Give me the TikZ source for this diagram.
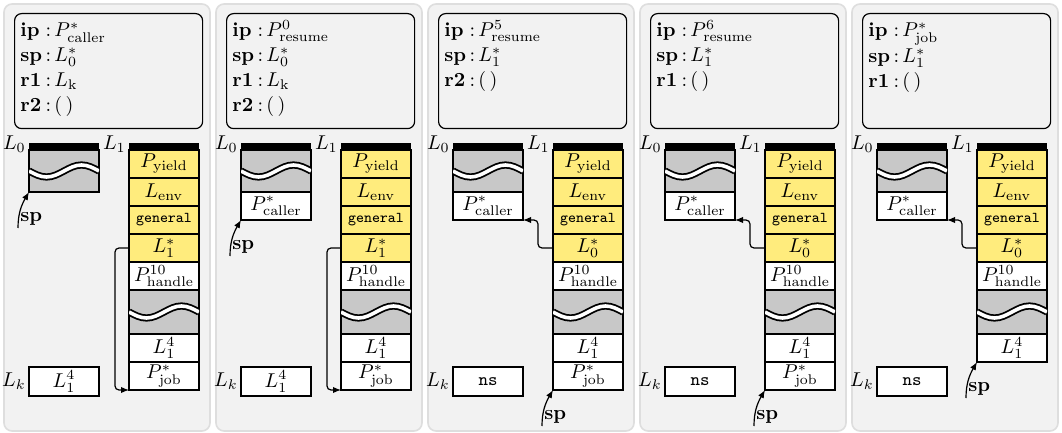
\documentclass[tikz,border=0pt]{standalone}
\usetikzlibrary{positioning, arrows.meta}

\definecolor{panelbg}{RGB}{242,242,242}
\definecolor{panelline}{RGB}{222,222,222}
\definecolor{frameyellow}{RGB}{255,236,125}
\definecolor{gapgray}{RGB}{200,200,200}

% torn part of a stack
\newcommand{\tear}[1]{%
  \begin{scope}
    \clip (#1.south west) rectangle (#1.north east);
    \draw[line width=3.6pt] (#1.west) sin ++(17.5,-6) cos ++(17.5,6) sin ++(17.5,6) cos ++(17.5,-6);
    \draw[white, line width=1.8pt] (#1.west) sin ++(17.5,-6) cos ++(17.5,6) sin ++(17.5,6) cos ++(17.5,-6);
  \end{scope}}
\newcommand{\nsval}{{\fontsize{9}{10}\selectfont\texttt{ns}}}

\begin{document}
\begin{tikzpicture}[
  x=0.5pt, y=0.5pt,
  panel/.style = {rectangle, draw=panelline, fill=panelbg, line width=0.8pt, rounded corners=4pt, minimum width=103pt, minimum height=213.5pt, inner sep=0pt},
  ctx/.style   = {rectangle, draw, line width=0.6pt, rounded corners=3.5pt, minimum width=94pt, minimum height=57.5pt, anchor=north west, inner sep=0pt},
  regs/.style  = {anchor=north west, inner sep=0pt, font={\def\arraystretch{1.04}}},
  bar/.style   = {rectangle, fill=black, minimum width=35pt, minimum height=3.5pt, inner sep=0pt, outer sep=0pt, anchor=north west},
  cell/.style  = {rectangle, draw, fill=white, line width=0.6pt, minimum width=35pt, minimum height=14pt, inner sep=0pt, outer sep=0pt},
  hot/.style   = {cell, fill=frameyellow},
  gap/.style   = {cell, fill=gapgray, minimum height=22pt},
  lkbox/.style = {cell, minimum height=14.5pt, anchor=north west},
  lab/.style   = {anchor=base east, inner sep=1.5pt},
  splab/.style = {anchor=south west, inner sep=1pt},
  ptr/.style   = {-{Latex[length=4pt, width=3.2pt]}, line width=0.6pt, rounded corners=2pt},
  bottomline/.style = {line width=1.3pt},
  tt/.style    = {font=\fontsize{7.5}{9}\selectfont\ttfamily},
  ]
  \useasboundingbox (0,0) rectangle (1062,-433);

  % what every panel has
  \foreach \i/\s/\k in {1/1/{$L_1^4$}, 2/1/{$L_1^4$}, 3/0/\nsval, 4/0/\nsval, 5/0/\nsval} {
    \begin{scope}[shift={(212*\i-212,0)}]
      \node[panel] (pan\i) at (107,-217.5) {};
      \node[ctx]   (ctx\i) at (14,-13) {};
      % stack L0
      \node[bar] (topa\i) at (29,-143) {};
      \node[lab] (namea\i) at (topa\i.south west) {$L_0$};
      \node[gap, minimum height=21pt, below=0pt of topa\i] (gapa\i) {};
      % stack L1
      \node[bar] (topb\i) at (129,-143) {};
      \node[lab] (nameb\i) at (topb\i.south west) {$L_1$};
      \node[hot, below=0pt of topb\i]  (yield\i) {$P_{\mathrm{yield}}$};
      \node[hot, below=0pt of yield\i] (env\i)   {$L_{\mathrm{env}}$};
      \node[hot, tt, below=0pt of env\i] (gen\i) {general};
      \node[hot, below=0pt of gen\i]   (ls\i)    {$L_{\s}^*$};
      \node[cell, below=0pt of ls\i]   (hand\i)  {$P^{10}_{\mathrm{handle}}$};
      \node[gap, below=0pt of hand\i]  (gapb\i)  {};
      \node[cell, below=0pt of gapb\i] (lfour\i) {$L_1^4$};
      \node[lkbox] (lk\i) at (29,-367) {\k};
      \node[left, inner sep=1.5pt] (lkname\i) at (lk\i.west) {$L_k$};
    \end{scope}
    \tear{gapa\i}
    \tear{gapb\i}
  }

  % registers
  \node[regs] (regs1) at ([shift={(6,-6)}]ctx1.north west) {\begin{tabular}{@{}l@{\,:\,}l@{}}
    \textbf{ip} & $P^*_{\mathrm{caller}}$ \\ \textbf{sp} & $L_0^*$ \\ \textbf{r1} & $L_{\mathrm{k}}$ \\ \textbf{r2} & $(\,)$ \end{tabular}};
  \node[regs] (regs2) at ([shift={(6,-6)}]ctx2.north west) {\begin{tabular}{@{}l@{\,:\,}l@{}}
    \textbf{ip} & $P^0_{\mathrm{resume}}$ \\ \textbf{sp} & $L_0^*$ \\ \textbf{r1} & $L_{\mathrm{k}}$ \\ \textbf{r2} & $(\,)$ \end{tabular}};
  \node[regs] (regs3) at ([shift={(6,-6)}]ctx3.north west) {\begin{tabular}{@{}l@{\,:\,}l@{}}
    \textbf{ip} & $P^5_{\mathrm{resume}}$ \\ \textbf{sp} & $L_1^*$ \\ \textbf{r2} & $(\,)$ \end{tabular}};
  \node[regs] (regs4) at ([shift={(6,-6)}]ctx4.north west) {\begin{tabular}{@{}l@{\,:\,}l@{}}
    \textbf{ip} & $P^6_{\mathrm{resume}}$ \\ \textbf{sp} & $L_1^*$ \\ \textbf{r1} & $(\,)$ \end{tabular}};
  \node[regs] (regs5) at ([shift={(6,-6)}]ctx5.north west) {\begin{tabular}{@{}l@{\,:\,}l@{}}
    \textbf{ip} & $P^*_{\mathrm{job}}$ \\ \textbf{sp} & $L_1^*$ \\ \textbf{r1} & $(\,)$ \end{tabular}};

  % cells that differ
  \foreach \i in {2,...,5} {
    \node[cell, below=0pt of gapa\i] (caller\i) {$P^*_{\mathrm{caller}}$};
    \draw[bottomline] (caller\i.south west) -- (caller\i.south east);
  }
  \foreach \i in {1,...,4} {
    \node[cell, below=0pt of lfour\i] (job\i) {$P^*_{\mathrm{job}}$};
    \draw[bottomline] (job\i.south west) -- (job\i.south east);
  }

  % links between frames
  \draw[ptr] (ls1.west) -- ++(-14,0) |- (job1.south west);
  \draw[ptr] (ls2.west) -- ++(-14,0) |- (job2.south west);
  \foreach \i in {3,4,5}
    \draw[ptr] (ls\i.west) -- ++(-15,0) |- (caller\i.south east);

  % stack pointers
  \node[splab] (sp1) at ([shift={(-11,-36)}]gapa1.south west)   {\textbf{sp}};
  \node[splab] (sp2) at ([shift={(-11,-36)}]caller2.south west) {\textbf{sp}};
  \node[splab] (sp3) at ([shift={(-11,-36)}]job3.south west)    {\textbf{sp}};
  \node[splab] (sp4) at ([shift={(-11,-36)}]job4.south west)    {\textbf{sp}};
  \node[splab] (sp5) at ([shift={(-11,-36)}]lfour5.south west)  {\textbf{sp}};
  \draw[ptr] (sp1.south west) to[out=90, in=240] (gapa1.south west);
  \draw[ptr] (sp2.south west) to[out=90, in=240] (caller2.south west);
  \draw[ptr] (sp3.south west) to[out=90, in=240] (job3.south west);
  \draw[ptr] (sp4.south west) to[out=90, in=240] (job4.south west);
  \draw[ptr] (sp5.south west) to[out=90, in=240] (lfour5.south west);
\end{tikzpicture}
\end{document}
